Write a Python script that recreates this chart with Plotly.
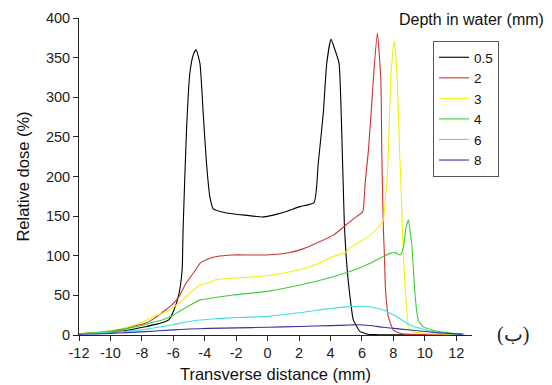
import plotly.graph_objects as go

# ---- data ----
series_names = ["0.5", "2", "3", "4", "6", "8"]

x_05 = [-12, -11, -10, -9, -8.8, -7.77, -7, -6.5, -6.29, -5.96, -5.64, -5.44, -5.38, -5.16, -4.95, -4.74, -4.55,
        -4.31, -4.1, -3.89, -3.68, -3.46, -2.62, -1.34, -0.28, 0.78, 2.06, 2.95, 3.22, 3.54, 3.76, 4.03, 4.28,
        4.54, 4.71, 4.88, 5.05, 5.24, 5.45, 5.66, 5.88, 6.2, 6.5, 7, 8, 9, 10, 11, 12, 12.5]
y_05 = [1.5, 2.5, 3.5, 5.5, 6.3, 10.5, 14, 17, 19, 31.5, 52, 82, 132, 259, 330, 353, 360,
        343, 280, 217, 175, 159, 154, 151, 149, 153.5, 162, 167, 217, 280, 343, 373, 360,
        343, 259, 140, 85, 48, 19, 11, 4.2, 2, 0.6, 0.4, 0.3, 0.3, 0.3, 0.3, 0.3, 0.3]

x_2 = [-12, -11, -9.9, -9, -8.57, -7.77, -7.29, -6.5, -6, -5.65, -5.2, -4.59, -4.31, -3.9, -3.25, -2.19, -1.1,
       -0.06, 1.42, 2.3, 3.12, 4.18, 5.24, 5.7, 6.05, 6.2, 6.41, 6.6, 6.75, 6.98, 7.2, 7.26, 7.36, 7.43, 7.5,
       7.68, 8.0, 8.5, 9, 10, 11, 12, 12.5]
y_2 = [1.5, 2.8, 4.2, 8, 11, 14.7, 20, 31.5, 40, 48, 65, 82, 90.5, 95, 99, 101, 101,
       101, 104, 109, 116, 126, 143, 150, 155.6, 191, 233, 285, 330, 381, 322, 233, 135, 100, 57,
       23, 6.3, 2, 1, 0.6, 0.5, 0.4, 0.4]

x_3 = [-12, -11, -10, -9, -8, -7.29, -6.5, -6, -5.65, -5, -4.31, -3.74, -3.25, -2.2, -1.13, 0.99, 2.69, 4.18,
       5.03, 5.24, 6.52, 7.0, 7.36, 7.5, 7.58, 7.68, 7.85, 8.06, 8.25, 8.39, 8.48, 8.6, 8.75, 8.85, 8.96, 9.2,
       9.5, 10, 11, 12, 12.5]
y_3 = [1.5, 3, 5.5, 9.5, 16, 23, 29, 35, 40, 52, 63, 66, 70, 72, 73, 78, 86, 99,
       105, 110, 126, 135, 145, 175, 191, 233, 330, 371, 320, 233, 191, 116, 57, 35, 8.4, 4,
       3, 2, 1.2, 0.8, 0.5]

x_4 = [-12, -11, -10, -9, -8, -7.3, -6.71, -6, -5.65, -5, -4.31, -3.74, -2.19, -0.06, 2.06, 4.18, 5.24, 6.52,
       7.36, 7.79, 8.1, 8.43, 8.64, 8.8, 8.96, 9.08, 9.17, 9.28, 9.38, 9.5, 9.6, 9.9, 10.5, 11, 11.6, 12, 12.5]
y_4 = [1.5, 3, 5, 8, 12, 16, 19, 25, 29.4, 37, 44, 46, 50.5, 55, 63, 73.6, 80, 90.5,
       99, 103, 104, 101, 111, 135, 145, 128, 115, 80, 50, 28, 18, 10.5, 6, 4, 2.5, 1.8, 1.2]

x_6 = [-12, -11, -10, -9, -8, -7.77, -6.5, -5.65, -4.3, -3.74, -2, 0, 2, 3, 4, 5, 5.45, 6, 6.52, 7.36,
       8.22, 9.06, 9.9, 10.75, 11.5, 12.4]
y_6 = [1.5, 2.3, 3.4, 4.8, 6.5, 7.2, 11, 14.7, 19, 19.8, 22, 23.5, 28, 31, 33.5, 35.5, 36, 36.3, 35.7, 31.5,
       23, 12.6, 7.2, 3, 1.5, 0.5]

x_8 = [-12, -10.96, -10, -9, -7.77, -6, -5, -3.74, -2, 0, 2, 4, 5.24, 5.7, 6.5, 7.36, 8.2, 9.06, 10, 10.75,
       11.5, 12.4]
y_8 = [1, 1.3, 2, 3, 4.2, 6.5, 7.5, 8.4, 9, 9.7, 10.8, 11.8, 12.6, 13, 12, 9.7, 8, 6.3, 4.5, 3,
       2, 0.8]

x_tick_vals = [-12, -10, -8, -6, -4, -2, 0, 2, 4, 6, 8, 10, 12]
x_tick_text = ["-12", "-10", "-8", "-6", "-4", "-2", "0", "2", "4", "6", "8", "10", "12"]
y_tick_vals = [0, 50, 100, 150, 200, 250, 300, 350, 400]

# ---- styles ----
colors = ["#000000", "#cc3333", "#f2f20a", "#3ccc3c", "#3fe0e0", "#3434a0"]
xs = [x_05, x_2, x_3, x_4, x_6, x_8]
ys = [y_05, y_2, y_3, y_4, y_6, y_8]

FONT = "Arial, Liberation Sans, sans-serif"

fig = go.Figure()
for name, xv, yv, c in zip(series_names, xs, ys, colors):
    fig.add_trace(go.Scatter(x=xv, y=yv, name=name, mode="lines",
                             line=dict(color=c, width=1.1, shape="spline", smoothing=0.5)))

fig.update_layout(
    width=552, height=385,
    margin=dict(l=79, r=80, t=18, b=50, autoexpand=False),
    paper_bgcolor="white", plot_bgcolor="white",
    font=dict(family=FONT, color="#222222", size=14.5),
    showlegend=True,
    legend=dict(x=(433 - 79) / 393, y=(335 - 41) / 317, xanchor="left", yanchor="top",
                bgcolor="white", bordercolor="#555555", borderwidth=1,
                font=dict(size=13.5, family=FONT, color="#111111"),
                tracegroupgap=0),
    annotations=[
        dict(text="Depth in water (mm)", x=(471 - 79) / 393, y=(335 - 20) / 317, xref="paper", yref="paper",
             xanchor="center", yanchor="middle", showarrow=False,
             font=dict(size=16, family=FONT, color="#111111")),
        dict(text="(ب)", x=(513 - 79) / 393, y=0.003, xref="paper", yref="paper",
             xanchor="center", yanchor="middle", showarrow=False,
             font=dict(size=20, family="Liberation Serif, DejaVu Serif, serif", color="#222222")),
    ],
)

fig.update_xaxes(range=[-12, 13], tickvals=x_tick_vals, ticktext=x_tick_text,
                 showline=True, linecolor="#222222", linewidth=1, mirror=False,
                 ticks="outside", ticklen=5, tickwidth=1, tickcolor="#222222",
                 showgrid=False, zeroline=False, automargin=False,
                 title=dict(text="Transverse distance (mm)", standoff=8,
                            font=dict(size=16.5, family=FONT, color="#111111")))
fig.update_yaxes(range=[0, 400], tickvals=y_tick_vals,
                 showline=True, linecolor="#222222", linewidth=1, mirror=False,
                 ticks="outside", ticklen=5, tickwidth=1, tickcolor="#222222",
                 showgrid=False, zeroline=False, automargin=False,
                 title=dict(text="Relative dose (%)", standoff=12,
                            font=dict(size=16.5, family=FONT, color="#111111")))

fig.write_html("out.html", config={"displayModeBar": False},
               post_script="document.body.style.margin='0';document.body.style.overflow='hidden';")
